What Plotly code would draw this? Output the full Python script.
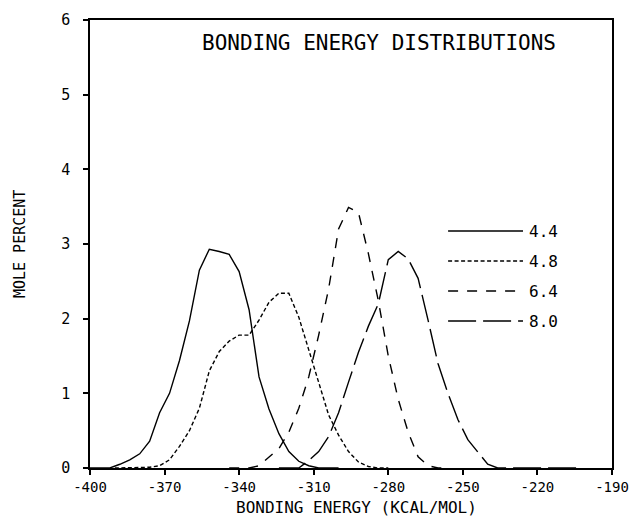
import plotly.graph_objects as go

# ---- data ----
energy_44 = [-400, -396, -392, -388, -384, -380, -376, -372, -368, -364, -360, -356, -352,
             -348, -344, -340, -336, -332, -328, -324, -320, -316, -312, -308, -304, -300]
mole_44 = [0, 0, 0, 0.05, 0.11, 0.19, 0.36, 0.74, 1.0, 1.44, 1.97, 2.65, 2.93,
           2.90, 2.86, 2.63, 2.12, 1.22, 0.79, 0.46, 0.22, 0.09, 0.03, 0.0, 0, 0]

energy_48 = [-390, -384, -380, -376, -372, -368, -364, -360, -356, -352, -348, -344, -340,
             -336, -332, -328, -324, -320, -316, -312, -308, -304, -300, -296, -292,
             -288, -284, -280]
mole_48 = [0, 0, 0, 0.01, 0.03, 0.11, 0.29, 0.50, 0.80, 1.30, 1.56, 1.70, 1.78,
           1.78, 1.98, 2.22, 2.34, 2.34, 2.02, 1.58, 1.14, 0.71, 0.44, 0.22, 0.08,
           0.02, 0, 0]

energy_64 = [-344, -340, -336, -332, -328, -324, -320, -316, -312, -308, -304, -300, -296,
             -292, -288, -284, -280, -276, -272, -268, -264, -260, -256]
mole_64 = [0, 0, 0, 0.03, 0.14, 0.26, 0.48, 0.80, 1.22, 1.78, 2.40, 3.20, 3.49,
           3.42, 2.87, 2.24, 1.50, 0.92, 0.48, 0.15, 0.03, 0, 0]

energy_80 = [-324, -320, -316, -312, -308, -304, -300, -296, -292, -288, -284, -280, -276,
             -272, -268, -264, -260, -256, -252, -248, -244, -240, -236, -220, -204]
mole_80 = [0, 0, 0.0, 0.10, 0.22, 0.42, 0.74, 1.15, 1.55, 1.90, 2.20, 2.79, 2.90,
           2.80, 2.54, 1.98, 1.40, 1.00, 0.65, 0.38, 0.22, 0.05, 0.0, 0, 0]

series_names = ["4.4", "4.8", "6.4", "8.0"]
x_tick_vals = [-400, -370, -340, -310, -280, -250, -220, -190]
x_tick_text = ["-400", "-370", "-340", "-310", "-280", "-250", "-220", "-190"]
y_tick_vals = [0, 1, 2, 3, 4, 5, 6]
y_tick_text = ["0", "1", "2", "3", "4", "5", "6"]

# ---- styles ----
FONT = "DejaVu Sans Mono"
dashes = ["solid", "4px,2.5px", "10px,9px", "28px,7px"]
LW = 1.4

fig = go.Figure()
for name, xs, ys, d in zip(series_names,
                           [energy_44, energy_48, energy_64, energy_80],
                           [mole_44, mole_48, mole_64, mole_80],
                           dashes):
    fig.add_trace(go.Scatter(x=xs, y=ys, mode="lines", name=name,
                             line=dict(color="black", width=LW, dash=d),
                             showlegend=False))

# legend drawn as shapes + labels (paper coordinates)
legend_y = [0.529, 0.462, 0.395, 0.328]
for name, d, yy in zip(series_names, dashes, legend_y):
    fig.add_shape(type="line", xref="paper", yref="paper",
                  x0=0.686, x1=0.8295, y0=yy, y1=yy,
                  line=dict(color="black", width=LW, dash=d))
    fig.add_annotation(x=0.838, y=yy, xref="paper", yref="paper",
                       text=name, showarrow=False, xanchor="left", yanchor="middle",
                       font=dict(family=FONT, size=16, color="black"))

fig.add_annotation(x=0.554, y=0.949, xref="paper", yref="paper",
                   text="BONDING ENERGY DISTRIBUTIONS", showarrow=False,
                   xanchor="center", yanchor="middle",
                   font=dict(family=FONT, size=21, color="black"))

# axis titles as annotations
fig.add_annotation(x=0.511, y=-0.088, xref="paper", yref="paper",
                   text="BONDING ENERGY (KCAL/MOL)", showarrow=False,
                   xanchor="center", yanchor="middle",
                   font=dict(family=FONT, size=16, color="black"))
fig.add_annotation(x=-0.134, y=0.5, xref="paper", yref="paper",
                   text="MOLE PERCENT", showarrow=False, textangle=-90,
                   xanchor="center", yanchor="middle",
                   font=dict(family=FONT, size=15, color="black"))

# page body has an 8px margin, so the figure is sized/offset to compensate
fig.update_layout(
    width=633, height=512,
    margin=dict(l=82, r=29, t=12, b=52),
    paper_bgcolor="white", plot_bgcolor="white",
    font=dict(family=FONT, size=15, color="black"),
    xaxis=dict(range=[-400, -190], tickvals=x_tick_vals, ticktext=x_tick_text,
               ticks="outside", ticklen=5, tickwidth=1.5, tickcolor="black",
               showline=True, linecolor="black", linewidth=1.5, mirror=True,
               showgrid=False, zeroline=False, automargin=False,
               tickfont=dict(family=FONT, size=14)),
    yaxis=dict(range=[0, 6], tickvals=y_tick_vals, ticktext=y_tick_text,
               ticks="outside", ticklen=5, tickwidth=1.5, tickcolor="black",
               showline=True, linecolor="black", linewidth=1.5, mirror=True,
               showgrid=False, zeroline=False, automargin=False,
               ticklabelstandoff=10,
               tickfont=dict(family=FONT, size=15)),
)

fig.write_html("out.html")
